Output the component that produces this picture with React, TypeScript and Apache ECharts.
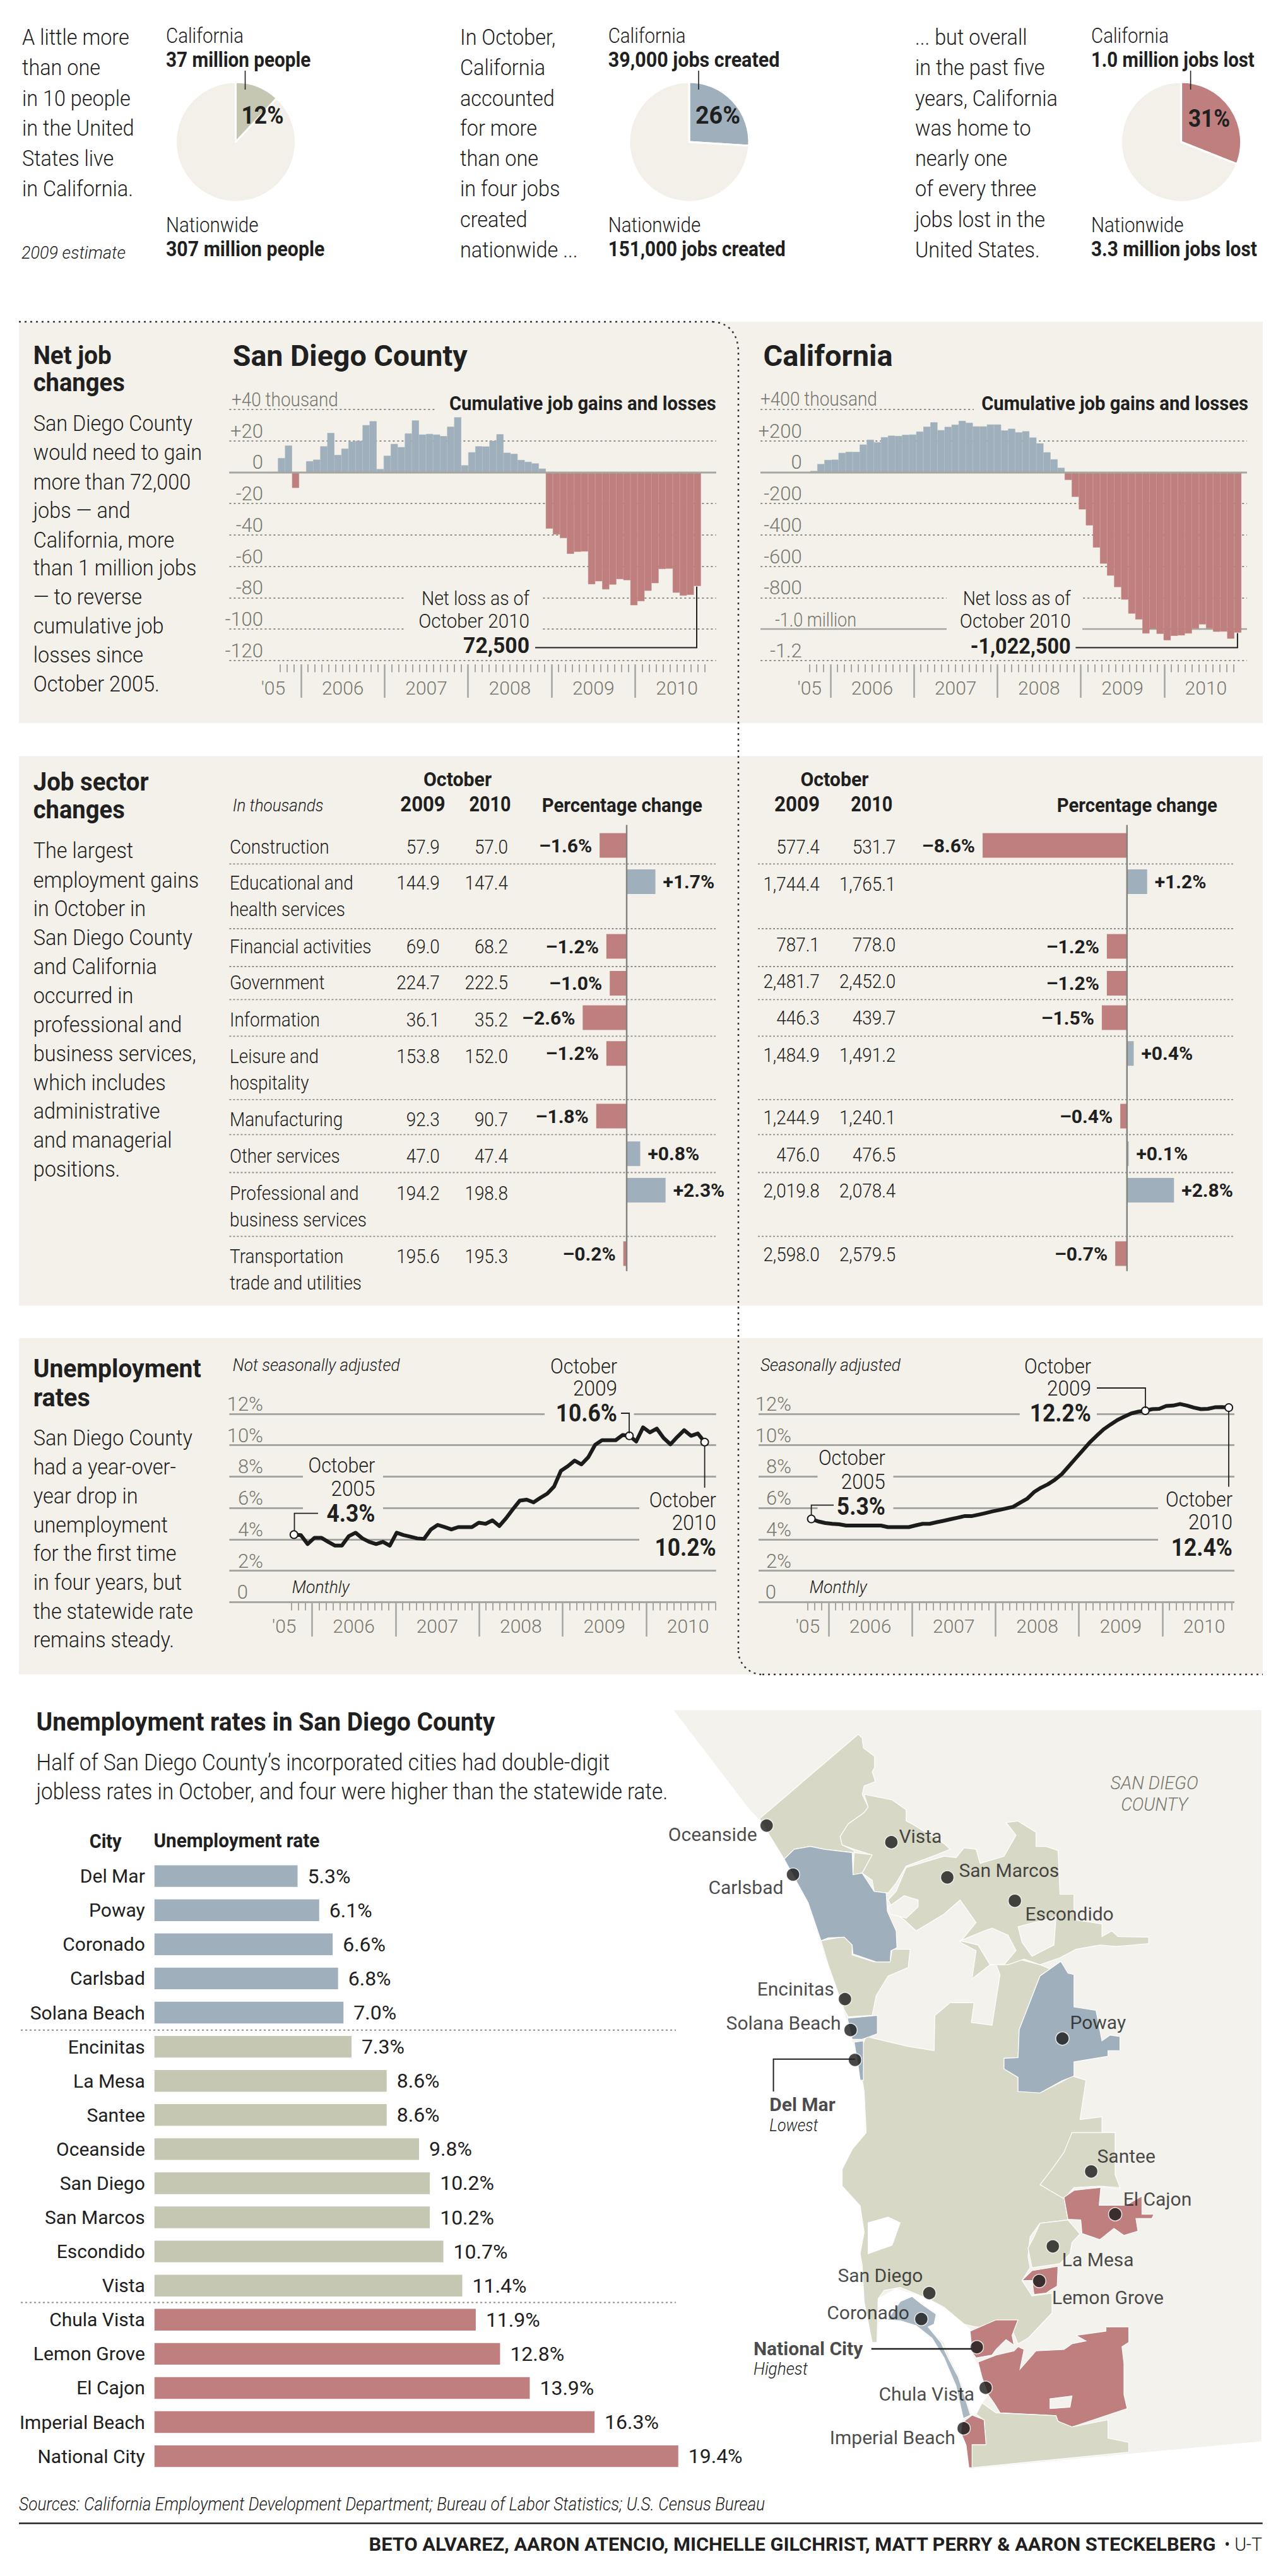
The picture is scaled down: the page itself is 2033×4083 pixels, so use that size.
import React, { useEffect, useRef } from "react";
import * as echarts from "echarts";

/* ---------- data ---------- */
const sdJobChanges = [-0.5, 0, 9, 17, -10, 0, 7, 8, 16.5, 25, 11, 15, 19.5, 20, 30, 32.5, 2, 10.5, 18, 16, 24.7, 33, 24, 24.4, 24, 23, 29, 35, 4.4, 12.7, 16.5, 16.4, 20, 24.2, 12.4, 11.7, 7.8, 6.6, 5.6, 2.3, -35.9, -39.7, -42, -52, -50.7, -50.5, -71.4, -69.5, -74.7, -71.6, -68.1, -68.8, -84.8, -82.2, -75.6, -70.7, -61.7, -61.5, -76.8, -78.7, -78.2, -72.5];
const caJobChanges = [8, 52, 78, 80, 123, 130, 129, 176, 207, 191, 223, 233, 231, 238, 240, 259, 290, 318, 268, 289, 303, 327, 315, 292, 292, 304, 304, 266, 277, 254, 261, 221, 184, 127, 82, 28, -49, -157, -237, -339, -480, -583, -659, -732, -812, -901, -939, -1028, -998, -1030, -1071, -1043, -1040, -1028, -996, -970, -996, -1017, -1016, -1061, -1022.5];
const sdRate = [4.3, 4.27, 3.7, 4.1, 4.1, 3.84, 3.6, 3.6, 4.2, 4.42, 4.06, 3.84, 3.7, 3.84, 3.6, 4.42, 4.27, 4.17, 4.06, 4.03, 4.63, 4.92, 4.78, 4.63, 4.78, 4.78, 4.78, 5.06, 4.99, 5.21, 4.85, 5.35, 5.93, 6.47, 6.53, 6.36, 6.65, 6.91, 7.37, 8.37, 8.66, 9.02, 8.78, 9.24, 10.03, 10.32, 10.32, 10.32, 10.65, 10.6, 10.24, 11.14, 10.82, 11.06, 10.46, 10.06, 10.53, 10.96, 10.6, 10.75, 10.2];
const caRate = [5.3, 5.14, 5.04, 4.99, 4.96, 4.88, 4.88, 4.88, 4.88, 4.88, 4.88, 4.78, 4.78, 4.78, 4.78, 4.89, 4.99, 4.99, 5.09, 5.18, 5.28, 5.38, 5.48, 5.48, 5.57, 5.67, 5.78, 5.87, 5.97, 6.07, 6.33, 6.58, 7.01, 7.29, 7.51, 7.8, 8.16, 8.66, 9.17, 9.67, 10.17, 10.6, 11.01, 11.32, 11.61, 11.83, 12.03, 12.14, 12.2, 12.3, 12.32, 12.5, 12.53, 12.63, 12.53, 12.4, 12.3, 12.32, 12.42, 12.43, 12.4];

const sectorNames = ["Construction", "Educational and\nhealth services", "Financial activities", "Government", "Information", "Leisure and\nhospitality", "Manufacturing", "Other services", "Professional and\nbusiness services", "Transportation\ntrade and utilities"];
const sd2009 = ["57.9", "144.9", "69.0", "224.7", "36.1", "153.8", "92.3", "47.0", "194.2", "195.6"];
const sd2010 = ["57.0", "147.4", "68.2", "222.5", "35.2", "152.0", "90.7", "47.4", "198.8", "195.3"];
const sdPct = [-1.6, 1.7, -1.2, -1.0, -2.6, -1.2, -1.8, 0.8, 2.3, -0.2];
const ca2009 = ["577.4", "1,744.4", "787.1", "2,481.7", "446.3", "1,484.9", "1,244.9", "476.0", "2,019.8", "2,598.0"];
const ca2010 = ["531.7", "1,765.1", "778.0", "2,452.0", "439.7", "1,491.2", "1,240.1", "476.5", "2,078.4", "2,579.5"];
const caPct = [-8.6, 1.2, -1.2, -1.2, -1.5, 0.4, -0.4, 0.1, 2.8, -0.7];

const cities = ["Del Mar", "Poway", "Coronado", "Carlsbad", "Solana Beach", "Encinitas", "La Mesa", "Santee", "Oceanside", "San Diego", "San Marcos", "Escondido", "Vista", "Chula Vista", "Lemon Grove", "El Cajon", "Imperial Beach", "National City"];
const cityRates = [5.3, 6.1, 6.6, 6.8, 7.0, 7.3, 8.6, 8.6, 9.8, 10.2, 10.2, 10.7, 11.4, 11.9, 12.8, 13.9, 16.3, 19.4];
const cityGroups = ["low", "low", "low", "low", "low", "mid", "mid", "mid", "mid", "mid", "mid", "mid", "mid", "high", "high", "high", "high", "high"];

const pieShares = [12, 26, 31];

const sdJobTickLabels: Record<string, string> = { "40": "", "20": "+20", "0": "0", "-20": "-20", "-40": "-40", "-60": "-60", "-80": "-80", "-100": "-100", "-120": "-120" };
const caJobTickLabels: Record<string, string> = { "400": "", "200": "+200", "0": "0", "-200": "-200", "-400": "-400", "-600": "-600", "-800": "-800", "-1000": "", "-1200": "-1.2" };
const rateTickLabels: Record<string, string> = { "12": "12%", "10": "10%", "8": "8%", "6": "6%", "4": "4%", "2": "2%", "0": "{z|0}" };

/* ---------- style ---------- */
const BLUE = "#9fb0bc";
const RED = "#bf7f7e";
const TAN = "#c6c7b3";
const MAPTAN = "#d8d8c7";
const PANEL = "#f3f1ea";
const LIGHT = "#f3f2ed";
const INK = "#202020";
const GRAY = "#77776f";
const RULE = "#8e8e88";
const AXIS = "#a6a6a0";
const SANS = 'Roboto, "Liberation Sans", sans-serif';

const measureCtx = document.createElement("canvas").getContext("2d") as CanvasRenderingContext2D;
type TOpt = { b?: boolean; i?: boolean; a?: string; w?: number; sx?: number; c?: string };
function T(text: string, x: number, y: number, size: number, o: TOpt = {}) {
  const weight = o.b ? 700 : 300;
  const font = `${o.i ? "italic " : ""}${weight} ${size}px ${SANS}`;
  let sx = o.sx ?? (o.b ? 0.93 : 0.9);
  if (o.w) {
    measureCtx.font = font;
    sx = o.w / measureCtx.measureText(text).width;
  }
  return { type: "text", x, y, z: 20, scaleX: sx, silent: true, style: { text, font, fill: o.c ?? INK, textAlign: o.a ?? "left", textVerticalAlign: "middle" } };
}
function Lines(rows: string[], x: number, ys: number[], size: number, o: TOpt = {}) {
  return rows.map((r, i) => T(r, x, ys[i], size, o));
}
function L(pts: number[][], width = 2, color = INK, z = 15, dash?: number[]) {
  return { type: "polyline", z, silent: true, shape: { points: pts }, style: { stroke: color, lineWidth: width, fill: "none", lineDash: dash } };
}
function Patch(x1: number, x2: number, y: number) {
  return { type: "rect", z: 5, silent: true, shape: { x: x1, y: y - 4, width: x2 - x1, height: 8 }, style: { fill: PANEL } };
}
function Panel(x: number, y: number, w: number, h: number) {
  return { type: "rect", z: -1, silent: true, shape: { x, y, width: w, height: h }, style: { fill: PANEL } };
}

/* ---------- month categories ---------- */
const MONTHS = ["Jan", "Feb", "Mar", "Apr", "May", "Jun", "Jul", "Aug", "Sep", "Oct", "Nov", "Dec"];
function monthRange(year: number, month: number, n: number) {
  const out: string[] = [];
  for (let i = 0; i < n; i++) {
    const t = year * 12 + month + i;
    out.push(`${MONTHS[t % 12]} ${Math.floor(t / 12)}`);
  }
  return out;
}

/* ---------- map geometry (outlines traced in map space) ---------- */
const mx = (x: number) => 1040 + x / 1.579;
const my = (y: number) => 2690 + y / 2.24;
const S = 1546;
const ring = (p: number[][], dy = 0) => {
  const r = p.map(([x, y]) => [mx(x), my(y + dy)]);
  r.push(r[0]);
  return r;
};
const countyOutline = ring([[45, 47], [1513, 47], [1513, 2641], [785, 2738], [775, 2656], [762, 2606], [768, 2561], [750, 2446], [720, 2346], [690, 2276], [650, 2231], [610, 2214], [578, 2211], [555, 2211], [552, 2291], [540, 2291], [520, 2146], [515, 2016], [510, 1976], [520, 1900], [510, 1806], [465, 1736], [465, 1676], [490, 1606], [525, 1546], [520, 1400], [505, 1270], [490, 1215], [470, 1110], [430, 950], [380, 730], [320, 575], [270, 450], [235, 400]]);
const mapShapes: [string, number[][], string][] = [
  ["County", countyOutline, LIGHT],
  ["San Diego", ring([[525, 1205], [630, 1240], [695, 1255], [697, 1130], [735, 1085], [795, 1085], [788, 1155], [840, 1165], [860, 985], [850, 950], [905, 930], [960, 950], [985, 965], [960, 990], [930, 1100], [908, 1180], [905, 1280], [870, 1282], [870, 1320], [905, 1350], [905, 1400], [960, 1405], [1015, 1365], [1040, 1345], [1075, 1360], [1060, 1500], [1115, 1490], [1115, 1546], [1148, 1546], [1148, 1696], [1160, 1746], [1110, 1738], [1045, 1738], [1020, 1776], [1030, 1856], [960, 1868], [935, 1916], [930, 1986], [935, 2026], [915, 2071], [940, 2126], [990, 2116], [990, 2186], [930, 2276], [905, 2296], [890, 2246], [800, 2236], [770, 2226], [720, 2166], [680, 2136], [610, 2096], [570, 2106], [555, 2136], [552, 2291], [540, 2291], [520, 2146], [515, 2016], [510, 1976], [520, 1900], [510, 1806], [465, 1736], [465, 1676], [490, 1606], [525, 1546], [520, 1400], [505, 1270]]), MAPTAN],
  ["Oceanside", ring([[258, 432], [505, 132], [515, 145], [518, 180], [546, 210], [546, 250], [540, 265], [548, 300], [520, 315], [515, 345], [530, 390], [520, 410], [480, 450], [460, 495], [465, 525], [495, 545], [492, 630], [515, 625], [540, 560], [495, 552], [420, 540], [385, 530], [345, 540], [320, 575]]), MAPTAN],
  ["Vista", ring([[520, 345], [590, 365], [625, 400], [625, 440], [640, 450], [720, 520], [735, 540], [700, 560], [625, 600], [600, 660], [580, 695], [545, 690], [540, 650], [515, 625], [540, 560], [495, 540], [465, 525], [460, 495], [480, 450], [520, 410], [530, 390]]), MAPTAN],
  ["North inland", ring([[600, 690], [625, 605], [720, 565], [750, 570], [770, 535], [800, 540], [810, 590], [870, 565], [900, 490], [875, 445], [905, 440], [950, 480], [950, 530], [975, 530], [1005, 545], [1010, 700], [1045, 700], [1045, 790], [1115, 805], [1115, 850], [1140, 830], [1155, 850], [1232, 852], [1232, 875], [1150, 885], [1110, 880], [1050, 895], [1010, 925], [960, 950], [920, 930], [880, 950], [835, 950], [790, 1000], [800, 900], [760, 870], [800, 800], [760, 720], [720, 770], [650, 830], [620, 790], [600, 770], [580, 720]]), MAPTAN],
  ["Gap A", ring([[580, 745], [620, 705], [655, 720], [655, 745], [625, 785], [585, 770]]), LIGHT],
  ["Gap B", ring([[840, 820], [880, 845], [900, 900], [870, 950], [835, 950], [805, 880], [760, 865], [820, 830]]), LIGHT],
  ["Gap C", ring([[905, 815], [1000, 780], [995, 880], [940, 920], [915, 870]]), LIGHT],
  ["Encinitas", ring([[412, 865], [470, 850], [490, 880], [490, 915], [545, 940], [585, 940], [590, 895], [635, 895], [630, 960], [580, 990], [550, 1060], [540, 1130], [480, 1135], [470, 1110], [430, 950]]), MAPTAN],
  ["Carlsbad", ring([[320, 575], [345, 540], [385, 530], [420, 540], [490, 552], [492, 630], [515, 625], [545, 690], [575, 695], [578, 760], [600, 830], [602, 890], [587, 900], [585, 940], [550, 940], [492, 912], [490, 880], [470, 852], [430, 855], [412, 865], [380, 730]]), BLUE],
  ["Solana Beach", ring([[478, 1140], [553, 1130], [553, 1195], [515, 1215], [490, 1215]]), BLUE],
  ["Del Mar", ring([[495, 1225], [518, 1220], [518, 1360], [510, 1360], [505, 1310]]), BLUE],
  ["Poway", ring([[1012, 938], [1030, 980], [1045, 985], [1045, 1100], [1100, 1112], [1115, 1220], [1135, 1200], [1160, 1205], [1160, 1255], [1130, 1255], [1130, 1275], [1045, 1295], [1045, 1345], [1015, 1362], [960, 1405], [905, 1400], [905, 1350], [870, 1320], [870, 1282], [905, 1280], [908, 1180], [930, 1100], [960, 990]]), BLUE],
  ["Mission Bay", ring([[530, 320], [580, 300], [610, 320], [590, 400], [530, 430]], S), "#ffffff"],
  ["San Diego Bay", ring([[555, 590], [600, 555], [680, 590], [720, 625], [770, 680], [790, 705], [790, 790], [805, 830], [830, 930], [815, 960], [800, 1000], [790, 1003], [775, 940], [760, 870], [735, 800], [720, 745], [680, 695], [700, 645], [665, 610], [640, 582], [610, 600], [578, 665], [555, 665]], S), "#ffffff"],
  ["Santee", ring([[1040, 0], [1148, 0], [1148, 150], [1160, 195], [1110, 190], [1045, 195], [1020, 235], [960, 185], [990, 130], [1020, 70]], S), MAPTAN],
  ["La Mesa", ring([[960, 322], [1030, 310], [1060, 360], [1040, 390], [1035, 430], [1010, 465], [940, 480], [930, 410], [945, 370]], S), MAPTAN],
  ["Lemon Grove", ring([[940, 490], [1005, 475], [1003, 545], [985, 560], [975, 570], [945, 575], [940, 525], [915, 525]], S), RED],
  ["El Cajon", ring([[1020, 230], [1045, 205], [1112, 195], [1108, 258], [1175, 258], [1215, 225], [1215, 290], [1245, 290], [1240, 305], [1200, 305], [1205, 350], [1170, 365], [1145, 340], [1110, 380], [1065, 358], [1062, 310], [1030, 308]], S), RED],
  ["National City", ring([[785, 705], [850, 665], [905, 665], [890, 720], [895, 755], [875, 735], [850, 770], [840, 790], [800, 800], [790, 780]], S), RED],
  ["Chula Vista", ring([[805, 815], [850, 790], [895, 775], [905, 760], [920, 770], [910, 840], [950, 775], [1020, 770], [1040, 750], [1075, 740], [1050, 720], [1125, 705], [1125, 690], [1182, 690], [1182, 745], [1165, 760], [1170, 820], [1170, 930], [1178, 980], [1040, 1045], [1005, 1025], [1000, 1005], [860, 995], [845, 960], [830, 930], [815, 870]], S), RED],
  ["Otay gap", ring([[985, 945], [1040, 935], [1035, 975], [985, 980]], S), LIGHT],
  ["South Bay", ring([[800, 1000], [815, 960], [850, 995], [1000, 1005], [1005, 1025], [1040, 1045], [1130, 1020], [1130, 1085], [1182, 1100], [1182, 1135], [790, 1190], [790, 1108], [825, 1108], [820, 1020]], S), MAPTAN],
  ["Imperial Beach", ring([[765, 1030], [790, 1003], [820, 1020], [825, 1108], [790, 1108], [790, 1190], [782, 1190], [775, 1110], [762, 1065]], S), RED],
  ["Coronado", ring([[578, 665], [610, 600], [640, 582], [665, 610], [700, 645], [695, 680], [680, 690], [712, 745], [730, 800], [756, 870], [772, 940], [786, 1003], [768, 1015], [750, 900], [720, 800], [690, 730], [650, 685], [610, 668]], S), "#a9b8c3"],
];
// name, dot x, dot y, label anchor x, label centre y, align (map space)
const cityMarks: [string, number, number, number, number, string, boolean?][] = [
  ["Oceanside", 276, 456, 252, 487, "right"],
  ["Vista", 588, 515, 607, 495, "left"],
  ["Carlsbad", 342, 630, 318, 675, "right"],
  ["San Marcos", 728, 640, 757, 615, "left"],
  ["Escondido", 897, 723, 923, 770, "left"],
  ["Encinitas", 472, 1072, 445, 1037, "right"],
  ["Solana Beach", 486, 1182, 462, 1158, "right"],
  ["Del Mar", 497, 1288, 283, 1445, "left", true],
  ["Poway", 1016, 1212, 1035, 1155, "left"],
  ["Santee", 1088, 138 + S, 1103, 83 + S, "left"],
  ["El Cajon", 1148, 290 + S, 1168, 237 + S, "left"],
  ["La Mesa", 992, 404 + S, 1015, 450 + S, "left"],
  ["Lemon Grove", 958, 527 + S, 990, 585 + S, "left"],
  ["San Diego", 683, 570 + S, 667, 508 + S, "right"],
  ["Coronado", 663, 662 + S, 633, 640 + S, "right"],
  ["National City", 802, 762 + S, 243, 767 + S, "left", true],
  ["Chula Vista", 824, 906 + S, 796, 927 + S, "right"],
  ["Imperial Beach", 769, 1050 + S, 748, 1082 + S, "right"],
];

function buildOption() {
  const grid: any[] = [];
  const xAxis: any[] = [];
  const yAxis: any[] = [];
  const series: any[] = [];
  const g: any[] = [];

  const addGrid = (left: number, top: number, width: number, height: number) => {
    grid.push({ left, top, width, height, containLabel: false });
    return grid.length - 1;
  };
  const hiddenX = (gridIndex: number, data: string[], boundaryGap = true) => {
    xAxis.push({ type: "category", gridIndex, data, show: false, boundaryGap });
    return xAxis.length - 1;
  };
  const hiddenY = (gridIndex: number, min: number, max: number) => {
    yAxis.push({ type: "value", gridIndex, min, max, show: false });
    return yAxis.length - 1;
  };

  /* ticks + year labels, independent of the marks */
  const timeAxis = (jan06: number, slot: number, axisY: number, minor: number, major: number, first: string) => {
    const cats = monthRange(2005, 6, 67);
    const labels: Record<string, string> = { [first]: "'05", "Jul 2006": "2006", "Jul 2007": "2007", "Jul 2008": "2008", "Jul 2009": "2009", "Jul 2010": "2010" };
    const gi = addGrid(jan06 - 6 * slot, axisY - 1, 66 * slot, 1);
    hiddenY(gi, 0, 1);
    xAxis.push({
      type: "category", gridIndex: gi, position: "bottom", data: cats, boundaryGap: false,
      axisLine: { show: false },
      axisTick: { show: true, alignWithLabel: true, length: minor, lineStyle: { color: AXIS, width: 2 }, interval: (i: number) => i >= 3 && i <= 64 && (i - 6) % 12 !== 0 },
      axisLabel: { show: true, interval: (_: number, v: string) => v in labels, formatter: (v: string) => labels[v] ?? "", margin: 37, verticalAlign: "middle", color: GRAY, fontFamily: SANS, fontWeight: 300, fontSize: 30 },
    });
    xAxis.push({
      type: "category", gridIndex: gi, position: "bottom", data: cats, boundaryGap: false,
      axisLine: { show: false }, axisLabel: { show: false },
      axisTick: { show: true, alignWithLabel: true, length: major, lineStyle: { color: AXIS, width: 2.5 }, interval: (i: number) => i >= 6 && i <= 54 && (i - 6) % 12 === 0 },
    });
  };

  const frame = (left: number, right: number, top: number, bottom: number, min: number, max: number, interval: number, labels: Record<string, string>, labelRight: number, lineStyle: any, rich?: any) => {
    const gi = addGrid(left, top, right - left, bottom - top);
    xAxis.push({ type: "category", gridIndex: gi, data: [""], show: false });
    yAxis.push({
      type: "value", gridIndex: gi, min, max, interval,
      axisLine: { show: false }, axisTick: { show: false },
      splitLine: { show: true, lineStyle },
      axisLabel: { show: true, inside: true, align: "right", verticalAlign: "bottom", margin: labelRight - left, color: GRAY, fontFamily: SANS, fontWeight: 300, fontSize: 31, showMinLabel: true, showMaxLabel: true, formatter: (v: number) => labels[String(v)] ?? "", rich },
    });
  };

  const jobBars = (name: string, cats: string[], vals: number[], left: number, right: number, min: number, max: number) => {
    const gi = addGrid(left, 649, right - left, 397.8);
    const xi = hiddenX(gi, cats);
    const yi = hiddenY(gi, min, max);
    series.push({
      type: "bar", name, xAxisIndex: xi, yAxisIndex: yi, barWidth: "100%", barCategoryGap: "0%", silent: true,
      data: vals.map((v) => { const c = v < 0 ? RED : BLUE; return { value: v, itemStyle: { color: c, borderColor: c, borderWidth: 0.6 } }; }),
    });
  };

  const rateLine = (name: string, vals: number[], left: number, right: number, marks: number[]) => {
    const cats = monthRange(2005, 9, 61);
    const gi = addGrid(left, 2241, right - left, 298.3);
    const xi = hiddenX(gi, cats, false);
    const yi = hiddenY(gi, 0, 12);
    series.push({
      type: "line", name, xAxisIndex: xi, yAxisIndex: yi, data: vals, silent: true, smooth: false, clip: false, showSymbol: true, showAllSymbol: true,
      symbol: (_: any, p: any) => (marks.includes(p.dataIndex) ? "circle" : "none"), symbolSize: 12, z: 4,
      lineStyle: { color: "#1c1c1c", width: 6, join: "round" },
      itemStyle: { color: "#ffffff", borderColor: "#1c1c1c", borderWidth: 2 },
    });
  };

  const sectorRows = (tag: string, pct: number[], zeroX: number, pxPerPct: number, lo: number, hi: number) => {
    const tops = [1320.5, 1377.9, 1480.6, 1539, 1593.5, 1650.3, 1749.6, 1809.2, 1867, 1967.5];
    pct.forEach((v, i) => {
      const gi = addGrid(zeroX + lo * pxPerPct, tops[i], (hi - lo) * pxPerPct, 39);
      xAxis.push({ type: "value", gridIndex: gi, min: lo, max: hi, show: false });
      yAxis.push({ type: "category", gridIndex: gi, data: [sectorNames[i].replace("\n", " ")], show: false });
      series.push({
        type: "bar", name: `${tag} ${sectorNames[i].replace("\n", " ")}`, xAxisIndex: xAxis.length - 1, yAxisIndex: yAxis.length - 1, barWidth: "100%", silent: true,
        data: [{ value: v, itemStyle: { color: v < 0 ? RED : BLUE } }],
        label: { show: true, position: v < 0 ? "left" : "right", distance: 12, color: INK, fontFamily: SANS, fontWeight: 700, fontSize: 30, formatter: () => `${v < 0 ? "\u2013" : "+"}${Math.abs(v).toFixed(1)}%` },
      });
    });
  };

  /* ----- panels ----- */
  g.push(Panel(30, 510, 1971, 636), Panel(30, 1198.5, 1971, 871), Panel(30, 2120.7, 1971, 533.3));

  /* ----- dotted divider ----- */
  const dot = { stroke: "#333", lineWidth: 2.5, lineDash: [3, 6], fill: "none" };
  g.push({ type: "polyline", z: 15, silent: true, shape: { points: [[30, 510], [1129, 510]] }, style: dot });
  g.push({ type: "bezierCurve", z: 15, silent: true, shape: { x1: 1129, y1: 510, x2: 1170, y2: 559, cpx1: 1160, cpy1: 512, cpx2: 1170, cpy2: 535 }, style: dot });
  g.push({ type: "polyline", z: 15, silent: true, shape: { points: [[1170, 559], [1170, 2617]] }, style: dot });
  g.push({ type: "bezierCurve", z: 15, silent: true, shape: { x1: 1170, y1: 2617, x2: 1208, y2: 2654, cpx1: 1170, cpy1: 2636, cpx2: 1186, cpy2: 2654 }, style: dot });
  g.push({ type: "polyline", z: 15, silent: true, shape: { points: [[1208, 2654], [2001, 2654]] }, style: dot });

  /* ----- top pies ----- */
  const pieX = [373.5, 1092, 1871.6];
  const pieColors = [TAN, BLUE, RED];
  pieShares.forEach((s, i) => {
    series.push({
      type: "pie", name: `Share ${i + 1}`, center: [pieX[i], 225], radius: 95, startAngle: 90, clockwise: true, silent: true,
      label: { show: false }, labelLine: { show: false }, emphasis: { disabled: true },
      itemStyle: { borderColor: "#ffffff", borderWidth: 3 },
      data: [{ name: "California", value: s, itemStyle: { color: pieColors[i] } }, { name: "Nationwide", value: 100 - s, itemStyle: { color: "#f2f0e8" } }],
    });
    g.push(L([[pieX[i] + 15, 112], [pieX[i] + 15, 142]], 1.6));
  });
  const tY = [58, 106, 155, 202, 250, 298, 347, 395];
  g.push(...Lines(["A little more", "than one", "in 10 people", "in the United", "States live", "in California."], 35, tY, 36));
  g.push(...Lines(["In October,", "California", "accounted", "for more", "than one", "in four jobs", "created", "nationwide ..."], 729, tY, 36));
  g.push(...Lines(["... but overall", "in the past five", "years, California", "was home to", "nearly one", "of every three", "jobs lost in the", "United States."], 1450, tY, 36));
  g.push(T("2009 estimate", 34, 400, 28, { i: true, w: 165 }));
  const pieText: [number, string, number, string, number][] = [
    [263, "37 million people", 229.6, "307 million people", 251.6],
    [963.7, "39,000 jobs created", 272, "151,000 jobs created", 281],
    [1729, "1.0 million jobs lost", 259, "3.3 million jobs lost", 263],
  ];
  pieText.forEach(([x, a, aw, b, bw]) => {
    g.push(T("California", x, 57, 33, { w: 123 }), T(a, x, 95, 33, { b: true, w: aw }), T("Nationwide", x, 357, 33, { w: 146.5 }), T(b, x, 395, 33, { b: true, w: bw }));
  });
  g.push(T("12%", 416, 183, 38, { b: true, a: "center", w: 67 }), T("26%", 1137.5, 183, 38, { b: true, a: "center", w: 71 }), T("31%", 1916, 188, 38, { b: true, a: "center", w: 66 }));

  /* ----- net job changes ----- */
  g.push(T("Net job", 52.7, 563.7, 40, { b: true, w: 124 }), T("changes", 52.7, 607, 40, { b: true, w: 145 }));
  g.push(...Lines(["San Diego County", "would need to gain", "more than 72,000", "jobs \u2014 and", "California, more", "than 1 million jobs", "\u2014 to reverse", "cumulative job", "losses since", "October 2005."], 52.7, [670.8, 716.8, 763.2, 808.7, 855, 899.8, 945.3, 991.7, 1037.7, 1083], 36));
  g.push(T("San Diego County", 368.7, 563.7, 47, { b: true, w: 372 }), T("California", 1209.6, 563.7, 47, { b: true, w: 205 }));
  g.push(T("Cumulative job gains and losses", 1134.7, 639.6, 31, { b: true, a: "right", w: 423 }), T("Cumulative job gains and losses", 1978, 639.6, 31, { b: true, a: "right", w: 423 }));
  g.push(T("+40 thousand", 367, 633, 31, { c: GRAY, w: 169 }), T("+400 thousand", 1205, 633, 31, { c: GRAY, w: 185 }), T("-1.0 million", 1228, 982, 31, { c: GRAY, w: 129 }));

  const dotted = { color: RULE, width: 2, type: [3, 4] };
  frame(363.4, 1134.7, 649, 1046.8, -120, 40, 20, sdJobTickLabels, 417, dotted);
  frame(1205.2, 1976, 649, 1046.8, -1200, 400, 200, caJobTickLabels, 1270.7, dotted);
  jobBars("San Diego County job change", monthRange(2005, 8, 62), sdJobChanges, 418.1, 1110.6, -120, 40);
  jobBars("California job change", monthRange(2005, 9, 61), caJobChanges, 1283.9, 1967, -1200, 400);
  timeAxis(477, 11.03, 1053, 12.5, 53, "Sep 2005");
  timeAxis(1315.8, 11.02, 1053, 12.5, 53, "Oct 2005");
  g.push(L([[363.4, 749], [1134.7, 749]], 3, AXIS, 6), L([[1205.2, 749], [1976, 749]], 3, AXIS, 6));
  g.push(L([[1205.2, 997], [1976, 997]], 2.5, AXIS, 1));
  g.push(Patch(692, 1136, 649), Patch(642, 858, 947.5), Patch(642, 858, 997));
  g.push(Patch(1543, 1978, 649), Patch(1500, 1715, 947.5), Patch(1500, 1715, 997));
  g.push(T("Net loss as of", 839, 947.5, 32, { a: "right", w: 171 }), T("October 2010", 839, 984.4, 32, { a: "right", w: 176 }), T("72,500", 839, 1023.4, 36, { b: true, a: "right", w: 105 }));
  g.push(T("Net loss as of", 1696.7, 947.5, 32, { a: "right", w: 171 }), T("October 2010", 1696.7, 984.4, 32, { a: "right", w: 176 }), T("-1,022,500", 1696.7, 1023.4, 36, { b: true, a: "right", w: 159 }));
  g.push(L([[848, 1026.4], [1104, 1026.4], [1104, 929.7]], 2), L([[1704.4, 1026.4], [1960.9, 1026.4], [1960.9, 1003.4]], 2));

  /* ----- job sectors ----- */
  g.push(T("Job sector", 52.7, 1240, 40, { b: true, w: 183 }), T("changes", 52.7, 1284, 40, { b: true, w: 145 }));
  g.push(...Lines(["The largest", "employment gains", "in October in", "San Diego County", "and California", "occurred in", "professional and", "business services,", "which includes", "administrative", "and managerial", "positions."], 52.7, [1347.8, 1394.3, 1439.7, 1485.7, 1531, 1577, 1623, 1669.6, 1715, 1760.4, 1806.4, 1852.3], 36));
  g.push(T("In thousands", 368.7, 1276.8, 28, { i: true, w: 144 }));
  g.push(T("October", 725, 1235.4, 32, { b: true, a: "center", w: 108 }), T("2009", 670, 1275, 33, { b: true, a: "center", w: 71.5 }), T("2010", 776.5, 1275, 33, { b: true, a: "center", w: 66 }), T("Percentage change", 985.7, 1276, 32, { b: true, a: "center", w: 254 }));
  g.push(T("October", 1322.4, 1235.4, 32, { b: true, a: "center", w: 108 }), T("2009", 1263, 1275, 33, { b: true, a: "center", w: 72 }), T("2010", 1381.3, 1275, 33, { b: true, a: "center", w: 66 }), T("Percentage change", 1801.8, 1276, 32, { b: true, a: "center", w: 254 }));
  const sdRowY = [1342, 1399.4, 1500, 1557.8, 1616.8, 1674.7, 1774.6, 1832.5, 1891.5, 1991.4];
  const caRowY = [1342, 1401, 1497.6, 1555, 1613.4, 1672, 1771.7, 1830, 1887.5, 1988.5];
  sectorNames.forEach((n, i) => {
    n.split("\n").forEach((part, k) => g.push(T(part, 364, sdRowY[i] + k * 42, 31)));
    g.push(T(sd2009[i], 696.8, sdRowY[i], 31, { a: "right" }), T(sd2010[i], 805, sdRowY[i], 31, { a: "right" }));
    g.push(T(ca2009[i], 1298.8, caRowY[i], 31, { a: "right" }), T(ca2010[i], 1419.3, caRowY[i], 31, { a: "right" }));
  });
  [1369.3, 1472, 1532, 1584.4, 1642.3, 1742.8, 1798.4, 1858.5, 1959.6].forEach((y) => {
    g.push(L([[363.4, y], [1134, y]], 1.8, RULE, 1, [3, 3]), L([[1201, y], [1955, y]], 1.8, RULE, 1, [3, 3]));
  });
  sectorRows("San Diego County", sdPct, 993, 26.8, -3, 3);
  sectorRows("California", caPct, 1785.8, 26.6, -9, 3);
  g.push(L([[993, 1307.5], [993, 2014.7]], 2.5, "#84847e", 6), L([[1785.8, 1307.5], [1785.8, 2014.7]], 2.5, "#84847e", 6));

  /* ----- unemployment lines ----- */
  g.push(T("Unemployment", 52.7, 2169, 40, { b: true, w: 266 }), T("rates", 52.7, 2215, 40, { b: true, w: 90 }));
  g.push(...Lines(["San Diego County", "had a year-over-", "year drop in", "unemployment", "for the first time", "in four years, but", "the statewide rate", "remains steady."], 52.7, [2277.9, 2324.3, 2370, 2416, 2461.8, 2507, 2552.9, 2598.6], 36));
  g.push(T("Not seasonally adjusted", 368.7, 2163.6, 28, { i: true, w: 265 }), T("Monthly", 462.8, 2515.4, 28, { i: true, w: 91 }));
  g.push(T("Seasonally adjusted", 1205, 2163.6, 28, { i: true, w: 222 }), T("Monthly", 1282.8, 2515.4, 28, { i: true, w: 91 }));
  const solid = { color: AXIS, width: 3, type: "solid" };
  const zeroRich = { z: { padding: [0, 24, 0, 0], color: GRAY, fontFamily: SANS, fontWeight: 300, fontSize: 31 } };
  frame(363.4, 1134.7, 2241, 2539.3, 0, 12, 2, rateTickLabels, 417, solid, zeroRich);
  frame(1202, 1956, 2241, 2539.3, 0, 12, 2, rateTickLabels, 1254, solid, zeroRich);
  rateLine("San Diego County unemployment", sdRate, 465.8, 1116.6, [0, 49, 60]);
  rateLine("California unemployment", caRate, 1285.6, 1947.1, [0, 48, 60]);
  timeAxis(494.4, 11.03, 2540.5, 12, 53.5, "Sep 2005");
  timeAxis(1313, 11.02, 2540.5, 12, 53.5, "Oct 2005");
  g.push(Patch(863, 1004.5, 2241), Patch(480, 607, 2340.7), Patch(480, 607, 2390.4), Patch(1013, 1136, 2390.4), Patch(1013, 1136, 2440));
  g.push(Patch(1615.8, 1738, 2241), Patch(1295.5, 1415.5, 2340.7), Patch(1295.5, 1415.5, 2390.4), Patch(1835, 1957, 2390.4), Patch(1835, 1957, 2440));
  const note = (right: number, ys: number[], a: string, b: string, c: string) => {
    g.push(T(a, right, ys[0], 34, { a: "right", w: 106 }), T(b, right, ys[1], 34, { a: "right", w: 70 }), T(c, right, ys[2], 38, { b: true, a: "right" }));
  };
  note(978, [2165.4, 2201, 2240.4], "October", "2009", "10.6%");
  note(594.4, [2322.5, 2360, 2399.3], "October", "2005", "4.3%");
  note(1134.7, [2377, 2413.6, 2452.9], "October", "2010", "10.2%");
  note(1729, [2165.4, 2201, 2240.4], "October", "2009", "12.2%");
  note(1402.8, [2310.7, 2348.6, 2387.9], "October", "2005", "5.3%");
  note(1953, [2376, 2412.9, 2452.9], "October", "2010", "12.4%");
  g.push(L([[984, 2240], [997, 2240], [997, 2272]], 1.8), L([[504, 2398.6], [466.5, 2398.6], [466.5, 2426]], 1.8), L([[1116.6, 2292], [1116.6, 2358]], 1.8));
  g.push(L([[1738, 2200], [1815, 2200], [1815, 2232]], 1.8), L([[1321, 2385.7], [1285.6, 2385.7], [1285.6, 2402]], 1.8), L([[1947, 2236], [1947, 2356.4]], 1.8));

  /* ----- city bars ----- */
  g.push(T("Unemployment rates in San Diego County", 57.5, 2729.3, 41, { b: true, w: 727 }));
  g.push(T("Half of San Diego County\u2019s incorporated cities had double-digit", 57.5, 2793.6, 36, { w: 909 }), T("jobless rates in October, and four were higher than the statewide rate.", 57.5, 2839.6, 36, { w: 1001 }));
  g.push(T("City", 141.7, 2917.7, 31, { b: true, w: 51 }), T("Unemployment rate", 243.4, 2917.7, 31, { b: true, w: 263 }));
  g.push(L([[33, 3217.7], [1071, 3217.7]], 2, RULE, 1, [3, 4]), L([[33, 3649.6], [1071, 3649.6]], 2, RULE, 1, [3, 4]));
  const barGrid = addGrid(244.8, 2946.6, 855.6, 973.6);
  xAxis.push({ type: "value", gridIndex: barGrid, min: 0, max: 20, show: false });
  yAxis.push({ type: "category", gridIndex: barGrid, inverse: true, data: cities, axisLine: { show: false }, axisTick: { show: false }, axisLabel: { margin: 15, color: INK, fontFamily: SANS, fontWeight: 400, fontSize: 30 } });
  const groupColor: Record<string, string> = { low: BLUE, mid: TAN, high: RED };
  series.push({
    type: "bar", name: "Unemployment rate", xAxisIndex: xAxis.length - 1, yAxisIndex: yAxis.length - 1, barWidth: 34.4, silent: true,
    data: cityRates.map((v, i) => ({ value: v, itemStyle: { color: groupColor[cityGroups[i]] } })),
    label: { show: true, position: "right", distance: 16, color: INK, fontFamily: SANS, fontWeight: 400, fontSize: 32, formatter: (p: any) => `${Number(p.value).toFixed(1)}%` },
  });

  /* ----- map ----- */
  const xs = countyOutline.map((p) => p[0]);
  const ys = countyOutline.map((p) => p[1]);
  const minX = Math.min(...xs), maxX = Math.max(...xs), minY = Math.min(...ys), maxY = Math.max(...ys);
  echarts.registerMap("sdcounty", {
    type: "FeatureCollection",
    features: mapShapes.map(([name, r]) => ({ type: "Feature", properties: { name }, geometry: { type: "Polygon", coordinates: [r] } })),
  } as any);
  const geo = {
    map: "sdcounty", silent: true, roam: false, left: minX, top: minY, width: maxX - minX, height: maxY - minY,
    projection: { project: (p: number[]) => p, unproject: (p: number[]) => p },
    label: { show: false }, emphasis: { disabled: true }, select: { disabled: true },
    itemStyle: { areaColor: LIGHT, borderColor: "#ffffff", borderWidth: 1 },
    regions: mapShapes.map(([name, , c]) => ({ name, silent: true, itemStyle: { areaColor: c, borderColor: name === "County" ? LIGHT : "#ffffff", borderWidth: 1.2 } })),
  };
  series.push({
    type: "scatter", name: "Cities", coordinateSystem: "geo", geoIndex: 0, symbol: "circle", symbolSize: 21, z: 6, silent: true,
    itemStyle: { color: "#1a1a1a", borderColor: "#ffffff", borderWidth: 1.5 },
    data: cityMarks.map(([name, dx, dy, lx, ly, align, strong]) => ({
      name,
      value: [mx(dx), my(dy), cityRates[cities.indexOf(name)]],
      label: { show: true, position: "inside", formatter: name, offset: [(lx - dx) / 1.579, (ly - dy) / 2.24], align, verticalAlign: "middle", color: "#1a1a1a", fontFamily: SANS, fontWeight: strong ? 700 : 400, fontSize: 30 },
    })),
  });
  g.push(L([[mx(497), my(1285)], [mx(293), my(1285)], [mx(293), my(1400)]], 2), L([[mx(538), my(768 + S)], [mx(790), my(768 + S)]], 2.4));
  g.push(T("Lowest", mx(283), my(1518), 28, { i: true, w: 77 }), T("Highest", mx(243), my(840 + S), 28, { i: true, w: 86 }));
  g.push(T("SAN DIEGO", mx(1246), my(305), 29, { i: true, a: "center", c: GRAY, w: 139 }), T("COUNTY", mx(1246), my(382), 29, { i: true, a: "center", c: GRAY, w: 106 }));

  /* ----- footer ----- */
  g.push(T("Sources: California Employment Development Department; Bureau of Labor Statistics; U.S. Census Bureau", 30, 3969, 29, { i: true, w: 1183 }));
  g.push(L([[30, 3999.6], [2000.7, 3999.6]], 2.5, "#222"));
  g.push(T("BETO ALVAREZ, AARON ATENCIO, MICHELLE GILCHRIST, MATT PERRY & AARON STECKELBERG", 1926.6, 4032.7, 29, { b: true, a: "right", w: 1343 }));
  g.push(T("\u2022 U-T", 2000, 4032.7, 29, { a: "right", w: 60 }));

  return { animation: false, backgroundColor: "#ffffff", tooltip: { show: false }, geo, grid, xAxis, yAxis, series, graphic: { elements: g } };
}

export default function App() {
  const ref = useRef<HTMLDivElement>(null);
  useEffect(() => {
    document.body.style.margin = "0";
    const chart = echarts.init(ref.current as HTMLDivElement, undefined, { renderer: "svg", width: 2033, height: 4083 });
    chart.setOption(buildOption() as any);
    return () => chart.dispose();
  }, []);
  return <div ref={ref} style={{ width: 2033, height: 4083 }} />;
}
